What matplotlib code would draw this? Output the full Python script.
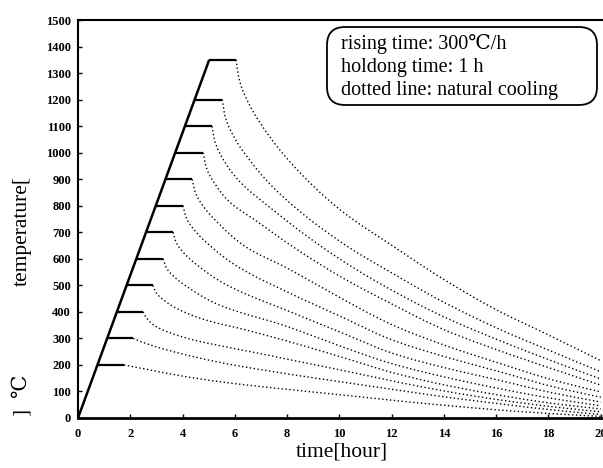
import matplotlib
matplotlib.use("Agg")
import matplotlib.pyplot as plt
from matplotlib.patches import FancyBboxPatch
import numpy as np

# ---- data ----
hold_levels = [200, 300, 400, 500, 600, 700, 800, 900, 1000, 1100, 1200, 1350]
hold_start = [0.73, 1.11, 1.49, 1.88, 2.26, 2.64, 2.99, 3.37, 3.72, 4.10, 4.48, 5.02]
hold_end = [1.76, 2.11, 2.49, 2.87, 3.26, 3.64, 4.02, 4.37, 4.79, 5.13, 5.52, 6.05]

rise_t = [0.0, 5.02]
rise_T = [0, 1350]

cool_t_200 = [1.76, 3.0, 4.3, 5.55, 7.6, 10, 12, 14, 16, 18, 20]
cool_T_200 = [200, 176, 153, 135, 112, 88, 67, 48, 31, 17, 6]
cool_t_300 = [2.11, 2.4, 3.0, 4.3, 5.55, 8.1, 10, 12, 14, 16, 18, 20]
cool_T_300 = [300, 288, 268, 234, 207, 165, 137, 108, 80, 55, 32, 13]
cool_t_400 = [2.49, 2.6, 2.87, 3.5, 4.5, 6, 8, 10, 12, 14, 16, 18, 20]
cool_T_400 = [400, 380, 352, 322, 292, 262, 222, 182, 140, 102, 70, 44, 23]
cool_t_500 = [2.87, 2.97, 3.27, 3.87, 4.87, 6.5, 8, 10, 12, 14, 16, 18, 20]
cool_T_500 = [500, 475, 445, 408, 370, 330, 290, 232, 172, 125, 88, 57, 34]
cool_t_600 = [3.26, 3.36, 3.66, 4.26, 5.26, 8, 10, 12, 14, 16, 18, 20]
cool_T_600 = [600, 570, 534, 489, 432, 345, 272, 205, 155, 113, 76, 46]
cool_t_700 = [3.64, 3.74, 4.04, 4.64, 5.64, 8, 10, 12, 14, 16, 18, 20]
cool_T_700 = [700, 665, 623, 570, 504, 405, 325, 245, 190, 145, 98, 60]
cool_t_800 = [4.02, 4.12, 4.42, 5.02, 6.02, 8, 10, 12, 14, 16, 18, 20]
cool_T_800 = [800, 760, 712, 652, 576, 475, 385, 295, 232, 178, 122, 78]
cool_t_900 = [4.37, 4.47, 4.77, 5.37, 6.37, 8, 10, 12, 14, 16, 18, 20]
cool_T_900 = [900, 855, 801, 734, 648, 565, 455, 352, 275, 210, 148, 98]
cool_t_1000 = [4.79, 4.89, 5.19, 5.79, 6.79, 8, 10, 12, 14, 16, 18, 20]
cool_T_1000 = [1000, 950, 890, 815, 745, 660, 535, 430, 333, 258, 190, 124]
cool_t_1100 = [5.13, 5.23, 5.53, 6.13, 7.13, 10, 12, 14, 16, 18, 20]
cool_T_1100 = [1100, 1045, 979, 897, 810, 600, 482, 381, 297, 220, 147]
cool_t_1200 = [5.52, 5.62, 5.92, 6.52, 7.52, 10, 12, 14, 16, 18, 20]
cool_T_1200 = [1200, 1140, 1068, 978, 864, 667, 547, 436, 340, 256, 174]
cool_t_1350 = [6.05, 6.15, 6.45, 7.05, 8.05, 10, 12, 14, 16, 18, 20]
cool_T_1350 = [1350, 1283, 1202, 1100, 972, 787, 651, 522, 408, 313, 216]

cooling = [
    (cool_t_200, cool_T_200), (cool_t_300, cool_T_300), (cool_t_400, cool_T_400),
    (cool_t_500, cool_T_500), (cool_t_600, cool_T_600), (cool_t_700, cool_T_700),
    (cool_t_800, cool_T_800), (cool_t_900, cool_T_900), (cool_t_1000, cool_T_1000),
    (cool_t_1100, cool_T_1100), (cool_t_1200, cool_T_1200), (cool_t_1350, cool_T_1350),
]

x_ticks = [0, 2, 4, 6, 8, 10, 12, 14, 16, 18, 20]
y_ticks = list(range(0, 1501, 100))

box_lines = ["rising time: 300\u2103/h", "holdong time: 1 h", "dotted line: natural cooling"]


def smooth_curve(x, y, n=400):
    """Monotone cubic (PCHIP) drawing of a read curve through its points."""
    x = np.asarray(x, float)
    y = np.asarray(y, float)
    h = np.diff(x)
    d = np.diff(y) / h
    m = np.zeros_like(y)
    for k in range(1, len(x) - 1):
        if d[k - 1] * d[k] > 0:
            w1 = 2 * h[k] + h[k - 1]
            w2 = h[k] + 2 * h[k - 1]
            m[k] = (w1 + w2) / (w1 / d[k - 1] + w2 / d[k])
    m[0] = d[0]
    m[-1] = d[-1]
    xs = np.linspace(x[0], x[-1], n)
    idx = np.clip(np.searchsorted(x, xs) - 1, 0, len(x) - 2)
    hh = h[idx]
    s = (xs - x[idx]) / hh
    h00 = 2 * s**3 - 3 * s**2 + 1
    h10 = s**3 - 2 * s**2 + s
    h01 = -2 * s**3 + 3 * s**2
    h11 = s**3 - s**2
    ys = h00 * y[idx] + h10 * hh * m[idx] + h01 * y[idx + 1] + h11 * hh * m[idx + 1]
    return xs, ys


# ---- figure ----
plt.rcParams['font.family'] = ['Liberation Serif', 'DejaVu Serif']
fig = plt.figure(figsize=(6.03, 4.68), dpi=100)
W, H = 603, 468
ax = fig.add_axes([78 / W, 1 - 418 / H, (606 - 78) / W, (418 - 20) / H])
ax.set_xlim(0, 20.2)
ax.set_ylim(0, 1500)

ax.plot(rise_t, rise_T, color='black', lw=1.8, solid_capstyle='butt')
for lvl, s, e in zip(hold_levels, hold_start, hold_end):
    ax.plot([s, e], [lvl, lvl], color='black', lw=1.6, solid_capstyle='butt')
for t, T in cooling:
    xs, ys = smooth_curve(t, T)
    ax.plot(xs, ys, color='black', lw=1.0, linestyle=(0, (1, 1.8)))

ax.set_xticks(x_ticks)
ax.set_yticks(y_ticks)
ax.set_xticklabels([str(v) for v in x_ticks], fontweight='bold', fontsize=9)
ax.set_yticklabels([str(v) for v in y_ticks], fontweight='bold', fontsize=9)
ax.tick_params(axis='x', direction='in', length=3, width=1, pad=7)
ax.tick_params(axis='y', direction='in', length=3, width=1, pad=5)
for side in ['left', 'top']:
    ax.spines[side].set_linewidth(1.5)
ax.spines['bottom'].set_linewidth(2.0)
ax.spines['right'].set_visible(False)

# axis labels
fig.text(342 / W, 1 - 452 / H, "time[hour]", ha='center', va='center', fontsize=15.5)
fig.text(22 / W, 1 - 231 / H, "temperature[", ha='center', va='center', rotation=90, fontsize=15.5)
fig.text(20 / W, 1 - 386 / H, "\u2103", ha='center', va='center', rotation=90, fontsize=15,
         family=['DejaVu Serif'])
fig.text(22 / W, 1 - 412 / H, "]", ha='center', va='center', rotation=90, fontsize=15.5)

# annotation box
box = FancyBboxPatch((327 / W, 1 - 105 / H), (597 - 327) / W, (105 - 27) / H,
                     boxstyle="round,pad=0,rounding_size=0.03", transform=fig.transFigure,
                     facecolor='white', edgecolor='black', lw=1.3, mutation_aspect=W / H)
fig.add_artist(box)
for i, line in enumerate(box_lines):
    fig.text(341 / W, 1 - (44 + 23.5 * i) / H, line, ha='left', va='center', fontsize=14.5)

fig.savefig("out.png", dpi=100)
